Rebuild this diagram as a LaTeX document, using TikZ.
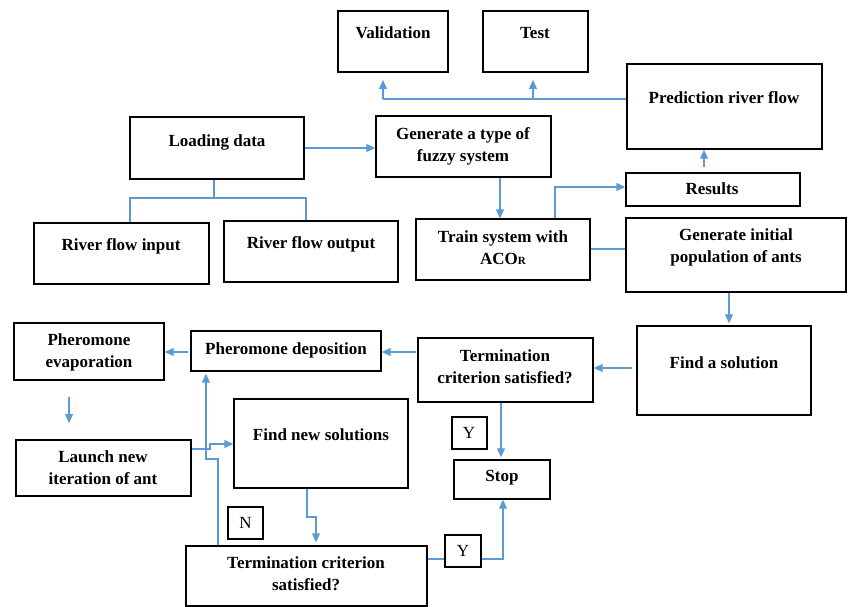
\documentclass[tikz,border=0pt]{standalone}
\usepackage{fontspec}
\setmainfont{Liberation Serif}
\usetikzlibrary{arrows.meta,fit}
\definecolor{arrowblue}{RGB}{91,155,213}
\begin{document}
\begin{tikzpicture}[x=1pt,y=-1pt,
  boxst/.style={draw=black, line width=1.4pt, inner sep=0pt},
  txt/.style={font=\fontsize{17}{22}\selectfont\bfseries, align=center, inner sep=0pt},
  lbl/.style={font=\fontsize{17}{22}\selectfont, inner sep=0pt},
  conn/.style={draw=arrowblue, line width=1.2pt},
  arr/.style={conn, -{Triangle[length=9pt,width=8pt]}}]
\fill[white] (0,0) rectangle (848,607);
\useasboundingbox (0,0) rectangle (848,607);

% boxes
\node[boxst, fit={(338,11) (448,72)}] (val) {};
\node[txt] (valt) at (393,33) {Validation};
\node[boxst, fit={(483,11) (588,72)}] (test) {};
\node[txt] (testt) at (535,33) {Test};
\node[boxst, fit={(627,64) (822,149)}] (pred) {};
\node[txt] (predt) at (724,98) {Prediction river flow};
\node[boxst, fit={(130,117) (304,179)}] (load) {};
\node[txt] (loadt) at (217,142) {Loading data};
\node[boxst, fit={(376,116) (551,177)}] (gen) {};
\node[txt] (gent) at (463,146) {Generate a type of\\fuzzy system};
\node[boxst, fit={(626,173) (800,206)}] (res) {};
\node[txt] (rest) at (712,189) {Results};
\node[boxst, fit={(34,223) (209,284)}] (rin) {};
\node[txt] (rint) at (121,246) {River flow input};
\node[boxst, fit={(224,221) (398,282)}] (rout) {};
\node[txt] (routt) at (311,244) {River flow output};
\node[boxst, fit={(416,219) (590,280)}] (train) {};
\node[txt] (traint) at (503,248) {Train system with\\ACO{\fontsize{11}{11}\selectfont R}};
\node[boxst, fit={(626,218) (846,292)}] (ginit) {};
\node[txt] (ginitt) at (736,247) {Generate initial\\population of ants};
\node[boxst, fit={(637,326) (811,415)}] (find) {};
\node[txt] (findt) at (724,363) {Find a solution};
\node[boxst, fit={(418,338) (593,402)}] (term1) {};
\node[txt] (term1t) at (505,367) {Termination\\criterion satisfied?};
\node[boxst, fit={(191,331) (381,371)}] (dep) {};
\node[txt] (dept) at (286,350) {Pheromone deposition};
\node[boxst, fit={(14,323) (164,380)}] (evap) {};
\node[txt] (evapt) at (89,352) {Pheromone\\evaporation};
\node[boxst, fit={(16,440) (191,496)}] (launch) {};
\node[txt] (launcht) at (103,468) {Launch new\\iteration of ant};
\node[boxst, fit={(234,399) (408,488)}] (fns) {};
\node[txt] (fnst) at (321,435) {Find new solutions};
\node[boxst, fit={(454,460) (550,499)}] (stop) {};
\node[txt] (stopt) at (502,478) {Stop};
\node[boxst, fit={(186,546) (427,606)}] (term2) {};
\node[txt] (term2t) at (306,574) {Termination criterion\\satisfied?};
\node[boxst, fit={(452,417) (487,449)}] (y1) {};
\node[lbl] (y1t) at (469,433) {Y};
\node[boxst, fit={(445,535) (481,567)}] (y2) {};
\node[lbl] (y2t) at (463,551) {Y};
\node[boxst, fit={(228,507) (263,539)}] (nn) {};
\node[lbl] (nnt) at (245.5,523) {N};

% coordinates
\coordinate (pv) at (383,99); \coordinate (pvt) at (383,80);
\coordinate (pt) at (533,99); \coordinate (ptt) at (533,80);
\coordinate (lg) at (0,148);
\coordinate (lb) at (214,199); \coordinate (hl) at (130,198); \coordinate (hr) at (306,198);
\coordinate (gt) at (500,0);
\coordinate (tr) at (555,187);
\coordinate (rp) at (704,167);
\coordinate (tg) at (0,249);
\coordinate (gf) at (729,0);
\coordinate (ft) at (632,368);
\coordinate (td) at (416,352);
\coordinate (ts) at (501,0);
\coordinate (de) at (188,352);
\coordinate (el1) at (69,397); \coordinate (el2) at (69,423);
\coordinate (lf1) at (210,449); \coordinate (lf2) at (210,444);
\coordinate (fb1) at (307,517); \coordinate (fb2) at (316,517);
\coordinate (tb1) at (218,459); \coordinate (tb2) at (206,459);
\coordinate (ty) at (503,559);

% connectors
\draw[conn] (pred.west |- pv) -- (pv);
\draw[arr] (pv) -- (pvt);
\draw[arr] (pt) -- (ptt);
\draw[arr] (load.east |- lg) -- (gen.west |- lg);
\draw[conn] (lb |- load.south) -- (lb);
\draw[conn] (hl |- rin.north) -- (hl) -- (hr) -- (hr |- rout.north);
\draw[arr] (gt |- gen.south) -- (gt |- train.north);
\draw[arr] (tr |- train.north) -- (tr) -- (tr -| res.west);
\draw[arr] (rp) -- (rp |- pred.south);
\draw[conn] (train.east |- tg) -- (ginit.west |- tg);
\draw[arr, shorten >=2pt] (gf |- ginit.south) -- (gf |- find.north);
\draw[arr] (ft) -- (ft -| term1.east);
\draw[arr] (td) -- (td -| dep.east);
\draw[arr, shorten >=2pt] (ts |- term1.south) -- (ts |- stop.north);
\draw[arr] (de) -- (de -| evap.east);
\draw[arr] (el1) -- (el2);
\draw[arr] (launch.east |- lf1) -- (lf1) -- (lf2) -- (lf2 -| fns.west);
\draw[arr, shorten >=3pt] (fb1 |- fns.south) -- (fb1) -- (fb2) -- (fb2 |- term2.north);
\draw[arr, shorten >=2pt] (tb1 |- term2.north) -- (tb1) -- (tb2) -- (tb2 |- dep.south);
\draw[conn] (term2.east |- ty) -- (y2.west |- ty);
\draw[arr] (y2.east |- ty) -- (ty) -- (ty |- stop.south);
\end{tikzpicture}
\end{document}
